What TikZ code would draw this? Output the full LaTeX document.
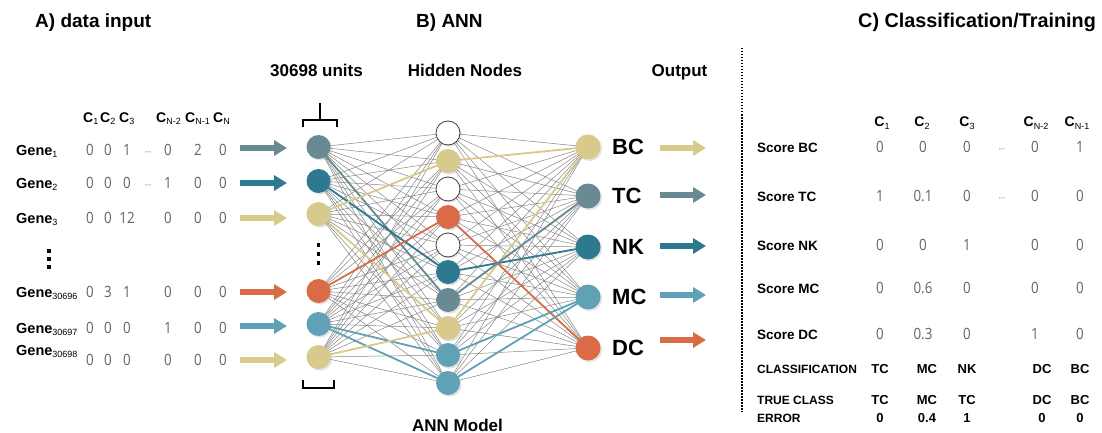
\documentclass[tikz,border=0pt]{standalone}
\usepackage{fontspec}
\setmainfont{Liberation Sans}
\newfontfamily\valfont{Open Sans}[FakeStretch=0.86]
\usetikzlibrary{arrows.meta,shadows}

\definecolor{slate}{HTML}{678A93}
\definecolor{deepteal}{HTML}{2E7890}
\definecolor{sand}{HTML}{D8CA8C}
\definecolor{rust}{HTML}{D96C46}
\definecolor{skyteal}{HTML}{60A1B6}
\definecolor{valgray}{HTML}{67615C}

\newcommand{\lowidx}[1]{\raisebox{-0.35ex}{\fontsize{9}{9}\selectfont\mdseries #1}}

\pgfdeclarelayer{wires}
\pgfsetlayers{wires,main}

\tikzset{
  unit/.style={circle, minimum size=24pt, inner sep=0pt, draw=none,
    drop shadow={opacity=0.22, shadow xshift=1.6pt, shadow yshift=-1.6pt}},
  blank/.style={unit, fill=white, draw=black!75, line width=0.8pt},
  wire/.style={draw=black!48, line width=0.5pt},
  hot/.style={line width=1.8pt, draw=#1},
  bigarrow/.style={line width=5.5pt, draw=#1, -{Triangle[length=13pt,width=15pt]}},
  title/.style={font=\fontsize{19}{19}\selectfont\bfseries, anchor=base west, inner sep=0pt},
  head/.style={font=\fontsize{17}{17}\selectfont\bfseries, anchor=base, inner sep=0pt},
  gene/.style={font=\fontsize{14.5}{14.5}\selectfont\bfseries, anchor=base west, inner sep=0pt},
  colhead/.style={font=\fontsize{14}{14}\selectfont\bfseries, inner sep=0pt},
  val/.style={font=\valfont\fontsize{15.5}{15.5}\selectfont, text=valgray, anchor=base, inner sep=0pt},
  ell/.style={font=\valfont\fontsize{9}{9}\selectfont, text=valgray, anchor=base, inner sep=0pt},
  score/.style={font=\fontsize{13.5}{13.5}\selectfont\bfseries, anchor=base west, inner sep=0pt},
  caps/.style={font=\fontsize{12}{12}\selectfont\bfseries, anchor=base, inner sep=0pt},
  outlbl/.style={font=\fontsize{22}{22}\selectfont\bfseries, anchor=west, inner sep=0pt},
  vdot/.style={fill=black, minimum size=3.4pt, inner sep=0pt, draw=none, rectangle},
  bracket/.style={line width=2.2pt, line cap=butt, line join=miter},
}

\begin{document}
\begin{tikzpicture}[x=1pt, y=-1pt]
\useasboundingbox (0,0) rectangle (1102,433);

% ---------- section titles ----------
\node[title] (tA) at (35,28) {A) data input};
\node[title] (tB) at (416,28) {B) ANN};
\node[title, font=\fontsize{19.8}{19.8}\selectfont\bfseries] (tC) at (858,28) {C) Classification/Training};

\node[head] (hUnits)  at (316.5,77) {30698 units};
\node[head] (hHidden) at (465,77) {Hidden Nodes};
\node[head] (hOut)    at (679.5,77) {Output};
\node[head] (hModel)  at (457.5,431) {ANN Model};

% ---------- A) expression matrix ----------
\node[colhead, anchor=base west] (c1)  at (83,122)  {C\lowidx{1}};
\node[colhead, anchor=base west] (c2)  at (100,122) {C\lowidx{2}};
\node[colhead, anchor=base west] (c3)  at (119,122) {C\lowidx{3}};
\node[colhead, anchor=base west] (cn2) at (156,122) {C\lowidx{N-2}};
\node[colhead, anchor=base west] (cn1) at (185,122) {C\lowidx{N-1}};
\node[colhead, anchor=base west] (cn)  at (213,122) {C\lowidx{N}};

\node[gene] (g1) at (16,155) {Gene\lowidx{1}};
\node[gene] (g2) at (16,188) {Gene\lowidx{2}};
\node[gene] (g3) at (16,223) {Gene\lowidx{3}};
\node[gene] (g4) at (16,297) {Gene\lowidx{30696}};
\node[gene] (g5) at (16,333) {Gene\lowidx{30697}};
\node[gene] (g6) at (16,355) {Gene\lowidx{30698}};

% matrix values: row baseline / values per column
\foreach \yy/\a/\b/\c/\d/\e/\f [count=\r] in
  {155/0/0/1/0/2/0, 188/0/0/0/1/0/0, 223/0/0/12/0/0/0,
   297/0/3/1/0/0/0, 333/0/0/0/1/0/0, 365/0/0/0/0/0/0}{
  \node[val] (v\r a) at (90,\yy)  {\a};
  \node[val] (v\r b) at (108,\yy) {\b};
  \node[val] (v\r c) at (127,\yy) {\c};
  \node[val] (v\r d) at (168,\yy) {\d};
  \node[val] (v\r e) at (198,\yy) {\e};
  \node[val] (v\r f) at (223,\yy) {\f};
}
\node[ell] (e1) at (148,155) {···};
\node[ell] (e2) at (148,188) {···};

\node[vdot] (ld1) at (49,251) {};
\node[vdot] (ld2) at (49,259) {};
\node[vdot] (ld3) at (49,267) {};

% input arrows
\foreach \yy/\col [count=\k] in {148/slate, 183/deepteal, 218/sand, 292/rust, 326/skyteal, 360/sand}{
  \coordinate (ia\k) at (240,\yy);
  \coordinate (ib\k) at (287,\yy);
  \draw[bigarrow=\col] (ia\k) -- (ib\k);
}

% ---------- B) network ----------
% input layer
\foreach \yy/\col [count=\k] in {147/slate, 181/deepteal, 214/sand, 291/rust, 324/skyteal, 357/sand}{
  \node[unit, fill=\col] (in\k) at (318.5,\yy) {};
}
\node[vdot] (nd1) at (318.5,245) {};
\node[vdot] (nd2) at (318.5,254) {};
\node[vdot] (nd3) at (318.5,263) {};

% hidden layer
\node[blank]              (h1)  at (448,133) {};
\node[unit, fill=sand]    (h2)  at (448,161) {};
\node[blank]              (h3)  at (448,189) {};
\node[unit, fill=rust]    (h4)  at (448,217) {};
\node[blank]              (h5)  at (448,245) {};
\node[unit, fill=deepteal](h6)  at (448,272) {};
\node[unit, fill=slate]   (h7)  at (448,300) {};
\node[unit, fill=sand]    (h8)  at (448,328) {};
\node[unit, fill=skyteal] (h9)  at (448,355) {};
\node[unit, fill=skyteal] (h10) at (448,383) {};

% output layer
\node[unit, fill=sand,     minimum size=25pt] (oBC) at (588,147) {};
\node[unit, fill=slate,    minimum size=25pt] (oTC) at (588,196) {};
\node[unit, fill=deepteal, minimum size=25pt] (oNK) at (588,247) {};
\node[unit, fill=skyteal,  minimum size=25pt] (oMC) at (588,297) {};
\node[unit, fill=rust,     minimum size=25pt] (oDC) at (588,348) {};

\node[outlbl] (lBC) at (612,147) {BC};
\node[outlbl] (lTC) at (612,196) {TC};
\node[outlbl] (lNK) at (612,247) {NK};
\node[outlbl] (lMC) at (612,297) {MC};
\node[outlbl] (lDC) at (612,348) {DC};

% output arrows
\foreach \yy/\col/\nm in {148/sand/BC, 195/slate/TC, 246/deepteal/NK, 295/skyteal/MC, 340/rust/DC}{
  \coordinate (oa\nm) at (660,\yy);
  \coordinate (ob\nm) at (706,\yy);
  \draw[bigarrow=\col] (oa\nm) -- (ob\nm);
}

% brackets around the input layer
\coordinate (bt1) at (303,127);
\coordinate (bt2) at (337,127);
\coordinate (btm) at (320,120);
\coordinate (btp) at (320,103);
\draw[bracket] (bt1) -- (303,120) -- (337,120) -- (bt2);
\draw[bracket] (btm) -- (btp);
\coordinate (bb1) at (303,380);
\coordinate (bb2) at (334,380);
\draw[bracket] (bb1) -- (303,388) -- (334,388) -- (bb2);

% connections
\begin{pgfonlayer}{wires}
  \foreach \i in {1,...,6}{
    \foreach \j in {1,...,10}{
      \draw[wire] (in\i.center) -- (h\j.center);
    }
  }
  \foreach \j in {1,...,10}{
    \foreach \o in {BC,TC,NK,MC,DC}{
      \draw[wire] (h\j.center) -- (o\o.center);
    }
  }
  % highlighted paths
  \draw[hot=slate]    (in1.center) -- (h7.center);
  \draw[hot=deepteal] (in2.center) -- (h6.center);
  \draw[hot=sand]     (in3.center) -- (h2.center);
  \draw[hot=sand]     (in3.center) -- (h8.center);
  \draw[hot=rust]     (in4.center) -- (h4.center);
  \draw[hot=skyteal]  (in5.center) -- (h9.center);
  \draw[hot=skyteal]  (in5.center) -- (h10.center);
  \draw[hot=sand]     (in6.center) -- (h8.center);
  \draw[hot=sand]     (h2.center) -- (oBC.center);
  \draw[hot=sand]     (h8.center) -- (oBC.center);
  \draw[hot=rust]     (h4.center) -- (oDC.center);
  \draw[hot=deepteal] (h6.center) -- (oNK.center);
  \draw[hot=slate]    (h7.center) -- (oTC.center);
  \draw[hot=skyteal]  (h9.center) -- (oMC.center);
  \draw[hot=skyteal]  (h10.center) -- (oMC.center);
\end{pgfonlayer}

% ---------- C) classification table ----------
\coordinate (sepTop) at (742,48);
\coordinate (sepBot) at (742,412);
\draw[line width=1.5pt, dash pattern=on 1.5pt off 1.5pt] (sepTop) -- (sepBot);

\node[colhead, anchor=base] (k1) at (882,127)  {C\lowidx{1}};
\node[colhead, anchor=base] (k2) at (922,127)  {C\lowidx{2}};
\node[colhead, anchor=base] (k3) at (967,127)  {C\lowidx{3}};
\node[colhead, anchor=base] (k4) at (1036,127) {C\lowidx{N-2}};
\node[colhead, anchor=base] (k5) at (1077,127) {C\lowidx{N-1}};

\foreach \yy/\lbl/\a/\b/\c/\d/\e [count=\r] in
  {152/BC/0/0/0/0/1, 201/TC/1/0.1/0/0/0, 250/NK/0/0/1/0/0,
   293/MC/0/0.6/0/0/0, 339/DC/0/0.3/0/1/0}{
  \node[score] (s\r) at (757,\yy) {Score \lbl};
  \node[val] (t\r a) at (880,\yy)  {\a};
  \node[val] (t\r b) at (923,\yy)  {\b};
  \node[val] (t\r c) at (967,\yy)  {\c};
  \node[val] (t\r d) at (1035,\yy) {\d};
  \node[val] (t\r e) at (1080,\yy) {\e};
}
\node[ell] (te1) at (1002,152) {···};
\node[ell] (te2) at (1002,201) {···};

\node[caps, anchor=base west] (rCl) at (757,373) {CLASSIFICATION};
\node[caps, anchor=base west] (rTr) at (757,404) {TRUE CLASS};
\node[caps, anchor=base west] (rEr) at (757,422) {ERROR};

\foreach \x/\p/\q/\err [count=\k] in {880/TC/TC/0, 927/MC/MC/0.4, 967/NK/TC/1, 1042/DC/DC/0, 1080/BC/BC/0}{
  \node[caps, font=\fontsize{13}{13}\selectfont\bfseries] (cl\k) at (\x,373) {\p};
  \node[caps, font=\fontsize{13}{13}\selectfont\bfseries] (tr\k) at (\x,404) {\q};
  \node[caps, font=\fontsize{13}{13}\selectfont\bfseries] (er\k) at (\x,422) {\err};
}
\end{tikzpicture}
\end{document}
